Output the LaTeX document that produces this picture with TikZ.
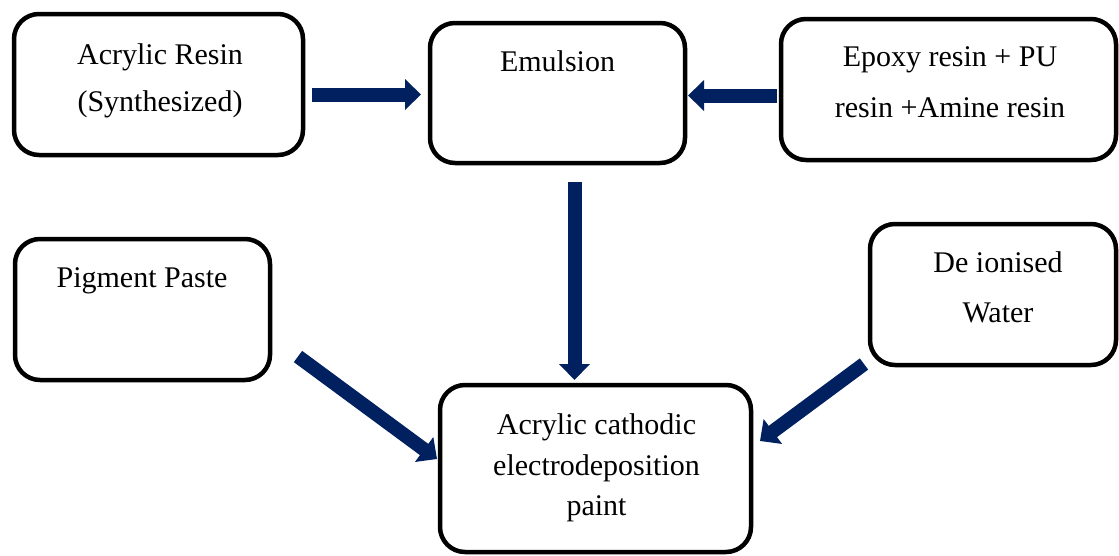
\documentclass[tikz,border=0pt]{standalone}
\usepackage{fontspec}
\setmainfont{Liberation Serif}
\usetikzlibrary{arrows.meta}
\definecolor{navy}{RGB}{0,32,96}
\begin{document}
\begin{tikzpicture}[x=1pt,y=-1pt,
  box/.style={draw=black, line width=4.5pt, rounded corners=25pt, inner sep=0pt},
  txt/.style={anchor=base, inner sep=0pt, font=\fontsize{30}{36}\selectfont},
  flow/.style={draw=navy, line width=14pt, -{Triangle[width=30pt,length=16pt]}}]
\useasboundingbox (0,0) rectangle (1119,555);
% boxes
\node[box, minimum width=289pt, minimum height=141pt] (resin) at (158.5,84.5) {};
\node[box, minimum width=255pt, minimum height=140pt] (emul) at (557.5,93) {};
\node[box, minimum width=335pt, minimum height=141pt] (epoxy) at (948.5,89.5) {};
\node[box, minimum width=255pt, minimum height=141pt] (pig) at (142.5,309.5) {};
\node[box, minimum width=246pt, minimum height=141pt] (water) at (993,294.5) {};
\node[box, minimum width=311pt, minimum height=167pt] (paint) at (595.5,468.5) {};
% texts
\node[txt] (t1a) at (160,64) {Acrylic Resin};
\node[txt] (t1b) at (160,111) {(Synthesized)};
\node[txt] (t2) at (557.5,71) {Emulsion};
\node[txt] (t3a) at (950,66) {Epoxy resin + PU};
\node[txt] (t3b) at (950,117) {resin +Amine resin};
\node[txt] (t4) at (142,287) {Pigment Paste};
\node[txt] (t5a) at (998,272) {De ionised};
\node[txt] (t5b) at (998,322) {Water};
\node[txt] (t6a) at (596.5,434) {Acrylic cathodic};
\node[txt] (t6b) at (596.5,475) {electrodeposition};
\node[txt] (t6c) at (596.5,515) {paint};
% arrow ends
\coordinate (a1s) at (312,94.5);
\coordinate (a1e) at (421,94.5);
\coordinate (a2s) at (777,95.5);
\coordinate (a2e) at (688,95.5);
\coordinate (a3s) at (574.5,182);
\coordinate (a3e) at (574.5,380);
\coordinate (a4s) at (298,356.5);
\coordinate (a4e) at (437,459);
\coordinate (a5s) at (864,364);
\coordinate (a5e) at (760,441);
% arrows
\draw[flow] (a1s) -- (a1e);
\draw[flow] (a2s) -- (a2e);
\draw[flow] (a3s) -- (a3e);
\draw[flow] (a4s) -- (a4e);
\draw[flow] (a5s) -- (a5e);
\end{tikzpicture}
\end{document}
